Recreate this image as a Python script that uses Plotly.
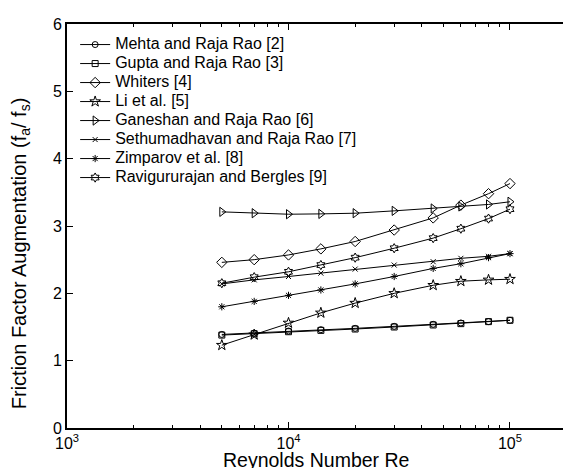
import plotly.graph_objects as go

re_vals = [5000, 7000, 10000, 14000, 20000, 30000, 45000, 60000, 80000, 100000]

mehta = [1.39, 1.41, 1.44, 1.46, 1.48, 1.51, 1.54, 1.56, 1.58, 1.60]
gupta = [1.38, 1.40, 1.43, 1.45, 1.47, 1.50, 1.53, 1.55, 1.58, 1.60]
whiters = [2.46, 2.50, 2.57, 2.66, 2.77, 2.94, 3.12, 3.31, 3.48, 3.63]
li = [1.23, 1.385, 1.56, 1.71, 1.855, 2.00, 2.12, 2.18, 2.20, 2.21]
ganeshan = [3.21, 3.19, 3.175, 3.18, 3.19, 3.225, 3.26, 3.29, 3.32, 3.36]
sethu = [2.14, 2.20, 2.25, 2.30, 2.36, 2.42, 2.47, 2.52, 2.55, 2.59]
zimparov = [1.80, 1.88, 1.97, 2.05, 2.14, 2.25, 2.37, 2.44, 2.53, 2.59]
ravi = [2.15, 2.24, 2.32, 2.42, 2.53, 2.67, 2.82, 2.96, 3.11, 3.25]

series = [
    ("Mehta and Raja Rao [2]", mehta, "circle-open", 6),
    ("Gupta and Raja Rao [3]", gupta, "square-open", 6),
    ("Whiters [4]", whiters, "diamond-open", 8),
    ("Li et al. [5]", li, "star-open", 8),
    ("Ganeshan and Raja Rao [6]", ganeshan, "triangle-right-open", 8),
    ("Sethumadhavan and Raja Rao [7]", sethu, "x-thin-open", 5),
    ("Zimparov et al. [8]", zimparov, "asterisk-open", 6),
    ("Ravigururajan and Bergles [9]", ravi, "hexagram-open", 7),
]

x_tickvals = [1e3, 1e4, 1e5]
x_ticktext = ["10<sup>3</sup>", "10<sup>4</sup>", "10<sup>5</sup>"]
y_tickvals = [0, 1, 2, 3, 4, 5, 6]

x_title = "Reynolds Number Re"
y_title = "Friction Factor Augmentation (f<sub>a</sub>/ f<sub>s</sub>)"

fig = go.Figure()
for name, vals, sym, sz in series:
    fig.add_trace(go.Scatter(
        x=re_vals, y=vals,
        name='<span style="font-size:16px">' + name + '</span>',
        mode="lines+markers",
        line=dict(color="black", width=1),
        marker=dict(symbol=sym, size=sz, color="black", line=dict(width=1, color="black")),
    ))

minor_vals = [m * 10 ** e for e in (3, 4, 5) for m in range(2, 10)]

fig.update_layout(
    width=571, height=468,
    margin=dict(l=59, r=1, t=16, b=48),
    plot_bgcolor="white", paper_bgcolor="white",
    font=dict(family="Liberation Sans, Arial, sans-serif", size=16, color="black"),
    showlegend=True,
    legend=dict(x=0.016, y=0.985, xanchor="left", yanchor="top", bgcolor="rgba(0,0,0,0)",
                font=dict(size=12.3), tracegroupgap=0),
    xaxis=dict(
        type="log", range=[3, 5.298],
        tickvals=x_tickvals, ticktext=x_ticktext,
        ticks="inside", ticklen=6, tickcolor="black",
        showline=True, linecolor="black", linewidth=2, mirror="ticks",
        showgrid=False, zeroline=False,
        minor=dict(tickvals=minor_vals, ticks="inside", ticklen=3, tickcolor="black", showgrid=False),
        tickfont=dict(size=16),
    ),
    yaxis=dict(
        range=[0, 6], tickvals=y_tickvals,
        ticks="inside", ticklen=6, tickcolor="black",
        showline=True, linecolor="black", linewidth=2, mirror="ticks",
        showgrid=False, zeroline=False,
        tickfont=dict(size=16),
    ),
    annotations=[
        dict(text=x_title, xref="paper", yref="paper", x=0.49, y=-0.048,
             xanchor="center", yanchor="top", showarrow=False, font=dict(size=19.5)),
        dict(text=y_title, xref="paper", yref="paper", x=-0.092, y=0.433,
             xanchor="center", yanchor="middle", textangle=-90, showarrow=False, font=dict(size=20)),
    ],
)

fig.write_html("out.html")
